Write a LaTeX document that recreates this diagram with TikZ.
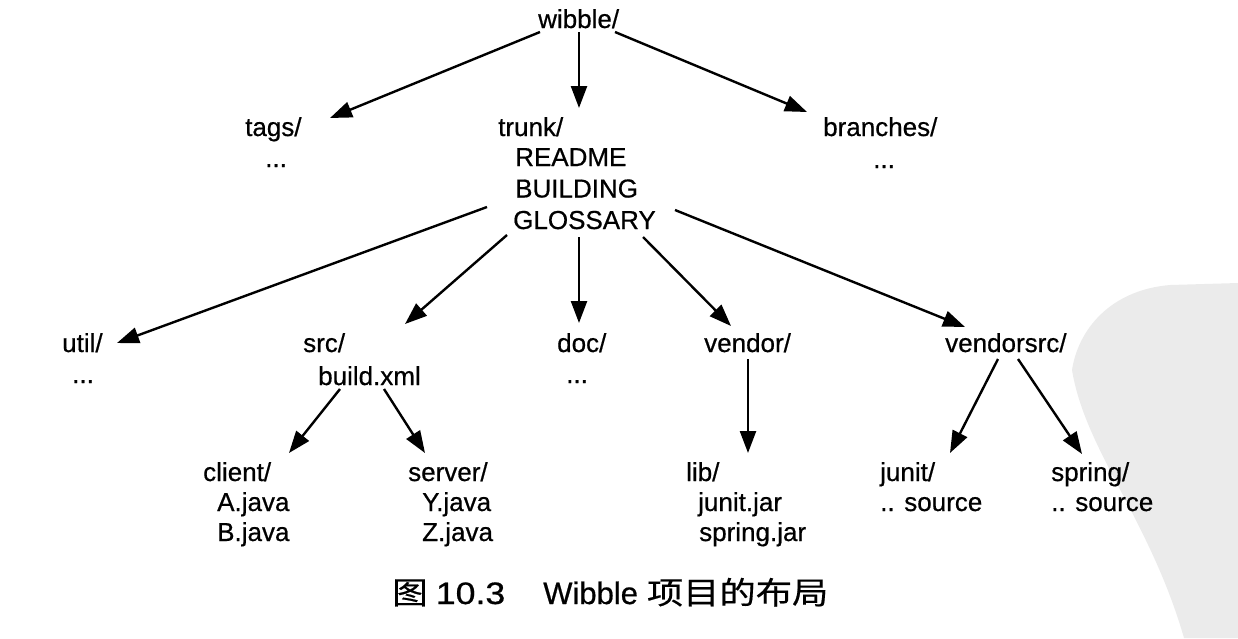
\documentclass[tikz,border=0pt]{standalone}
\usepackage{fontspec}
\setmainfont{Liberation Sans}[FakeBold=0.6]
\newfontfamily\cjk{Noto Sans CJK SC}[FakeBold=0.4]
\usetikzlibrary{arrows.meta}
\begin{document}
\begin{tikzpicture}[x=1pt,y=-1pt,
  lbl/.style={anchor=base west, inner sep=0pt, font=\fontsize{26}{30}\selectfont},
  arr/.style={-{Triangle[length=22pt,width=16pt]}, line width=2.4pt}]
\useasboundingbox (0,0) rectangle (1238,638);
% watermark blob
\fill[black!8] (1238,283) -- (1170,285) .. controls (1110,290) and (1078,330) .. (1072,370)
  .. controls (1085,450) and (1150,520) .. (1184,638) -- (1238,638) -- cycle;
% level 0
\node[lbl] (wibble) at (538,28) {wibble/};
% level 1
\node[lbl] (tags) at (245,136) {tags/};
\node[lbl] (tagsd) at (265,167) {...};
\node[lbl] (trunk) at (498,136) {trunk/};
\node[lbl] (readme) at (515,166) {README};
\node[lbl] (building) at (515,197.5) {BUILDING};
\node[lbl] (glossary) at (513,229) {GLOSSARY};
\node[lbl] (branches) at (823,136) {branches/};
\node[lbl] (branchesd) at (873,168) {...};
% level 2
\node[lbl] (util) at (62,352) {util/};
\node[lbl] (utild) at (72,383) {...};
\node[lbl] (src) at (303,352) {src/};
\node[lbl] (buildxml) at (318,385) {build.xml};
\node[lbl] (doc) at (557,352) {doc/};
\node[lbl] (docd) at (566,383) {...};
\node[lbl] (vendor) at (704,352) {vendor/};
\node[lbl] (vendorsrc) at (945,352) {vendorsrc/};
% level 3
\node[lbl] (client) at (203,481) {client/};
\node[lbl] (ajava) at (217,511) {A.java};
\node[lbl] (bjava) at (217,541) {B.java};
\node[lbl] (server) at (408,481) {server/};
\node[lbl] (yjava) at (422,511) {Y.java};
\node[lbl] (zjava) at (422,541) {Z.java};
\node[lbl] (lib) at (686,481) {lib/};
\node[lbl] (junitjar) at (698,511) {junit.jar};
\node[lbl] (springjar) at (699,541) {spring.jar};
\node[lbl] (junit) at (880,481) {junit/};
\node[lbl] (junits) at (880,511) {.. source};
\node[lbl] (spring) at (1051,481) {spring/};
\node[lbl] (springs) at (1051,511) {.. source};
% caption
\node[anchor=base west, inner sep=0pt, font=\fontsize{31}{36}\selectfont] (caption) at (392,604)
  {\scalebox{1.15}[1]{\cjk 图}\hspace{8pt}\scalebox{1.15}[1]{10.3}\hspace{38pt}Wibble\hspace{9pt}\scalebox{1.17}[1]{\cjk 项目的布局}};
% arrows
\draw[arr] ([shift={(2,4)}]wibble.base west) -- ([shift={(85,-18)}]tags.base west);
\draw[arr] ([shift={(41,4)}]wibble.base west) -- ([shift={(81,-28)}]trunk.base west);
\draw[arr] ([shift={(77,4)}]wibble.base west) -- ([shift={(-16,-24)}]branches.base west);
\draw[arr] ([shift={(-26,-22)}]glossary.base west) -- ([shift={(55,-9)}]util.base west);
\draw[arr] ([shift={(-6,6)}]glossary.base west) -- ([shift={(102,-28)}]src.base west);
\draw[arr] ([shift={(66,8)}]glossary.base west) -- ([shift={(22,-29)}]doc.base west);
\draw[arr] ([shift={(130,8)}]glossary.base west) -- ([shift={(27,-26)}]vendor.base west);
\draw[arr] ([shift={(162,-19)}]glossary.base west) -- ([shift={(20,-25)}]vendorsrc.base west);
\draw[arr] ([shift={(22,4)}]buildxml.base west) -- ([shift={(86,-28)}]client.base west);
\draw[arr] ([shift={(66,4)}]buildxml.base west) -- ([shift={(17,-28)}]server.base west);
\draw[arr] ([shift={(44,7)}]vendor.base west) -- ([shift={(62,-28)}]lib.base west);
\draw[arr] ([shift={(53,7)}]vendorsrc.base west) -- ([shift={(70,-28)}]junit.base west);
\draw[arr] ([shift={(73,7)}]vendorsrc.base west) -- ([shift={(31,-27)}]spring.base west);
\end{tikzpicture}
\end{document}
